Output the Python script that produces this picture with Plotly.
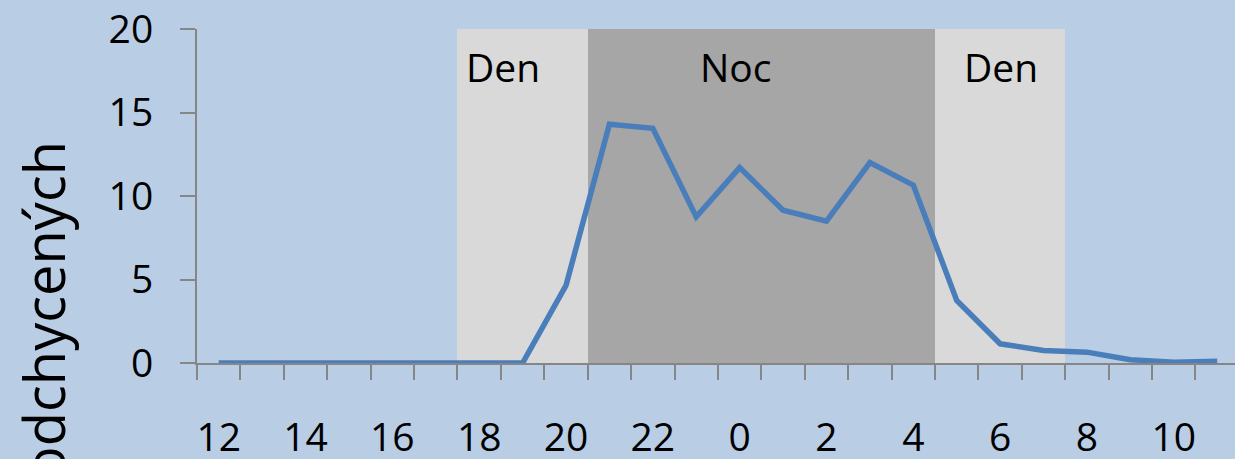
import plotly.graph_objects as go

# Data
hours = [12, 13, 14, 15, 16, 17, 18, 19, 20, 21, 22, 23, 0, 1, 2, 3, 4, 5, 6, 7, 8, 9, 10, 11]
counts = [0, 0, 0, 0, 0, 0, 0, 0, 4.65, 14.3, 14.05, 8.75, 11.7, 9.15, 8.5, 12.0, 10.65, 3.75, 1.15, 0.75, 0.65, 0.2, 0.05, 0.1]
den_band = [0, 0, 0, 0, 0, 0, 20, 20, 20, 0, 0, 0, 0, 0, 0, 0, 0, 20, 20, 20, 0, 0, 0, 0]
noc_band = [0, 0, 0, 0, 0, 0, 0, 0, 0, 20, 20, 20, 20, 20, 20, 20, 20, 0, 0, 0, 0, 0, 0, 0]
band_labels = ["Den", "Noc", "Den"]
band_label_x = [6.56, 11.91, 18.03]
band_label_y = [17.78, 17.78, 17.78]
y_title = "Počet odchycených"

xi = list(range(len(hours)))
tick_idx = xi[::2]
tick_text = [str(hours[i]) for i in tick_idx]

FONT = "Open Sans"
BG = "#B9CDE5"
AXIS = "#868686"

fig = go.Figure()
fig.add_trace(go.Bar(x=xi, y=den_band, width=1, marker=dict(color="#D9D9D9", line=dict(width=0)),
                     showlegend=False, hoverinfo="skip"))
fig.add_trace(go.Bar(x=xi, y=noc_band, width=1, marker=dict(color="#A6A6A6", line=dict(width=0)),
                     showlegend=False, hoverinfo="skip"))
fig.add_trace(go.Scatter(x=xi, y=counts, mode="lines", line=dict(color="#4A7EBB", width=5.5),
                         showlegend=False))

for t, x, y in zip(band_labels, band_label_x, band_label_y):
    fig.add_annotation(x=x, y=y, xref="x", yref="y", text=t, showarrow=False,
                       font=dict(family=FONT, size=39, color="black"), xanchor="center", yanchor="middle")

fig.add_annotation(x=-0.1477, y=0.671, xref="paper", yref="paper", text=y_title, showarrow=False,
                   textangle=-90, xanchor="center", yanchor="top",
                   font=dict(family=FONT, size=56, color="black"))

fig.update_layout(
    width=1235, height=459,
    paper_bgcolor=BG, plot_bgcolor=BG,
    margin=dict(l=197, r=0, t=29, b=96, pad=0, autoexpand=False),
    barmode="overlay", bargap=0,
    font=dict(family=FONT, color="black"),
    xaxis=dict(range=[-0.5, 23.41], tickmode="array", tickvals=tick_idx, ticktext=tick_text,
               ticks="", showgrid=False, zeroline=False, showline=True, linecolor=AXIS, linewidth=2,
               automargin=False,
               tickfont=dict(family=FONT, size=39, color="black"), ticklabelstandoff=39,
               minor=dict(tick0=-0.5, dtick=1, ticks="outside", ticklen=15, tickcolor=AXIS,
                          tickwidth=2, showgrid=False)),
    yaxis=dict(range=[0, 20], tickvals=[0, 5, 10, 15, 20], ticks="outside", ticklen=15,
               tickcolor=AXIS, tickwidth=2, showgrid=False, zeroline=False, showline=True,
               linecolor=AXIS, linewidth=2, automargin=False,
               tickfont=dict(family=FONT, size=39, color="black"),
               ticklabelstandoff=19),
)

fig.write_html("out.html", config={"displayModeBar": False},
               post_script="document.body.style.margin='0';document.body.style.background='#B9CDE5';")
